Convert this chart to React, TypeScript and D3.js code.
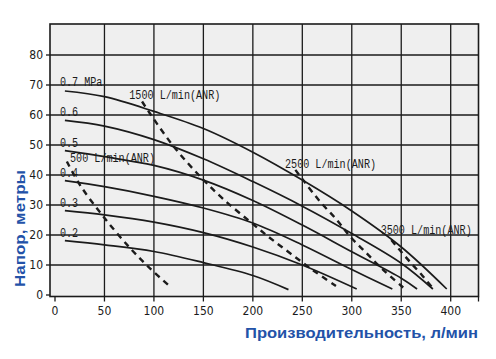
import React from "react";
import * as d3 from "d3";

type Pt = [number, number];

const flowTicks = [0, 50, 100, 150, 200, 250, 300, 350, 400];
const headTicks = [0, 10, 20, 30, 40, 50, 60, 70, 80];

const pressureNames = ["0.7 MPa", "0.6", "0.5", "0.4", "0.3", "0.2"];
const pressureLabelHead = [69.7, 59.7, 49.5, 39.5, 29.5, 19.5];

const curve07: Pt[] = [[10, 68], [50, 66.1], [100, 61.2], [150, 55.5], [200, 47.6], [250, 38.3], [300, 28], [350, 16], [396, 2]];
const curve06: Pt[] = [[10, 58.2], [50, 56.3], [100, 51.8], [150, 45.4], [200, 37.8], [250, 29.6], [300, 20.5], [350, 10.6], [382, 2]];
const curve05: Pt[] = [[10, 48.1], [50, 46.1], [100, 43.2], [150, 38.3], [200, 31.5], [250, 23.3], [300, 14.4], [350, 5.6], [366, 2]];
const curve04: Pt[] = [[10, 38.1], [50, 36.1], [100, 32.9], [150, 29], [200, 24], [250, 16.7], [300, 8.5], [341, 2]];
const curve03: Pt[] = [[10, 28.1], [50, 26.7], [100, 24.3], [150, 20.8], [200, 16], [250, 10], [305, 2]];
const curve02: Pt[] = [[10, 18.1], [50, 16.7], [100, 14.5], [150, 10.8], [200, 6.5], [236, 1.8]];

const airNames = ["500 L/min(ANR)", "1500 L/min(ANR)", "2500 L/min(ANR)", "3500 L/min(ANR)"];
const air500: Pt[] = [[12, 44.5], [25, 36.8], [49, 26.1], [76, 15.6], [96, 8.9], [117, 2.6]];
const air1500: Pt[] = [[88, 64.5], [96, 60.5], [120, 49.5], [147, 39.4], [170, 32], [197, 24.5], [217, 19.1], [239, 13.6], [261, 8.2], [284, 3]];
const air2500: Pt[] = [[243, 41.7], [252, 37.8], [268, 31.1], [285, 25], [298, 19.6], [315, 13.9], [332, 8.3], [352, 2.5]];
const air3500: Pt[] = [[340, 18.3], [350, 14.4], [360, 10.6], [370, 7], [381, 2.6]];
// label anchors (data coords) for the air-consumption labels
const airLabelAt: Pt[] = [[15.2, 44.5], [75.1, 65.3], [232.5, 42.3], [329.2, 20.5]];

const yTitle = "Напор, метры";
const xTitle = "Производительность, л/мин";

const W = 496;
const H = 359;

export default function App() {
  const x = d3.scaleLinear().domain([0, 400]).range([55, 450.7]);
  const y = d3.scaleLinear().domain([0, 80]).range([295, 55]);

  const left = 50;
  const right = 478.5;
  const top = 24;
  const bottom = 296.5;

  const line = d3
    .line<Pt>()
    .x((d) => x(d[0]))
    .y((d) => y(d[1]))
    .curve(d3.curveCatmullRom.alpha(0.5));

  const solids = [curve07, curve06, curve05, curve04, curve03, curve02];
  const dashes = [air500, air1500, air2500, air3500];

  const ink = "#1b1b1b";
  const blue = "#2352a8";
  const monoFont = "'Liberation Mono', 'DejaVu Sans Mono', monospace";
  const tickFont = "'Liberation Sans Narrow', 'DejaVu Sans Condensed', 'Liberation Sans', sans-serif";
  const charW = 6.07;

  return (
    <svg width={W} height={H} style={{ position: "absolute", left: 0, top: 0 }}>
      <rect x={0} y={0} width={W} height={H} fill="#ffffff" />
      <rect x={left} y={top} width={right - left} height={bottom - top} fill="#efefef" />

      {/* grid */}
      {flowTicks.filter((t) => t > 0).map((t) => (
        <line key={"gx" + t} x1={x(t)} x2={x(t)} y1={top} y2={bottom} stroke={ink} strokeWidth={1.3} />
      ))}
      {headTicks.filter((t) => t > 0).map((t) => (
        <line key={"gy" + t} x1={left} x2={right} y1={y(t)} y2={y(t)} stroke={ink} strokeWidth={1.3} />
      ))}

      {/* frame */}
      <rect x={left} y={top} width={right - left} height={bottom - top} fill="none" stroke={ink} strokeWidth={1.6} />

      {/* y ticks */}
      {headTicks.map((t) => (
        <g key={"ty" + t}>
          <line x1={left - 4} x2={left} y1={y(t)} y2={y(t)} stroke={ink} strokeWidth={1.3} />
          <text x={43} y={y(t) + 4} textAnchor="end" fontFamily={tickFont} fontSize={12} fill={ink}>
            {t}
          </text>
        </g>
      ))}

      {/* x ticks */}
      {flowTicks.map((t) => (
        <g key={"tx" + t}>
          <line x1={x(t)} x2={x(t)} y1={bottom} y2={bottom + 5} stroke={ink} strokeWidth={1.3} />
          <text x={x(t)} y={315} textAnchor="middle" fontFamily={tickFont} fontSize={12} fill={ink}>
            {t}
          </text>
        </g>
      ))}
      <line x1={right} x2={right} y1={bottom} y2={bottom + 5} stroke={ink} strokeWidth={1.3} />

      {/* pressure curves */}
      {solids.map((c, i) => (
        <path key={"s" + i} d={line(c) || ""} fill="none" stroke={ink} strokeWidth={1.7} />
      ))}

      {/* air consumption curves */}
      {dashes.map((c, i) => (
        <path key={"d" + i} d={line(c) || ""} fill="none" stroke={ink} strokeWidth={2.4} strokeDasharray="6,5" />
      ))}

      {/* pressure labels */}
      {pressureNames.map((n, i) => (
        <text
          key={"pl" + i}
          x={x(5)}
          y={y(pressureLabelHead[i])}
          fontFamily={monoFont}
          fontSize={12}
          fill={ink}
          textLength={n.length * charW}
          lengthAdjust="spacingAndGlyphs"
        >
          {n}
        </text>
      ))}

      {/* air labels */}
      {airNames.map((n, i) => (
        <text
          key={"al" + i}
          x={x(airLabelAt[i][0])}
          y={y(airLabelAt[i][1])}
          fontFamily={monoFont}
          fontSize={12}
          fill={ink}
          textLength={n.length * charW}
          lengthAdjust="spacingAndGlyphs"
        >
          {n}
        </text>
      ))}

      {/* axis titles */}
      <text
        transform={`translate(25,287) rotate(-90)`}
        fontFamily="'Liberation Sans', Arial, sans-serif"
        fontWeight="bold"
        fontSize={15.5}
        fill={blue}
        textLength={117}
        lengthAdjust="spacingAndGlyphs"
      >
        {yTitle}
      </text>
      <text
        x={245}
        y={338}
        fontFamily="'Liberation Sans', Arial, sans-serif"
        fontWeight="bold"
        fontSize={15.5}
        fill={blue}
        textLength={233}
        lengthAdjust="spacingAndGlyphs"
      >
        {xTitle}
      </text>
    </svg>
  );
}
